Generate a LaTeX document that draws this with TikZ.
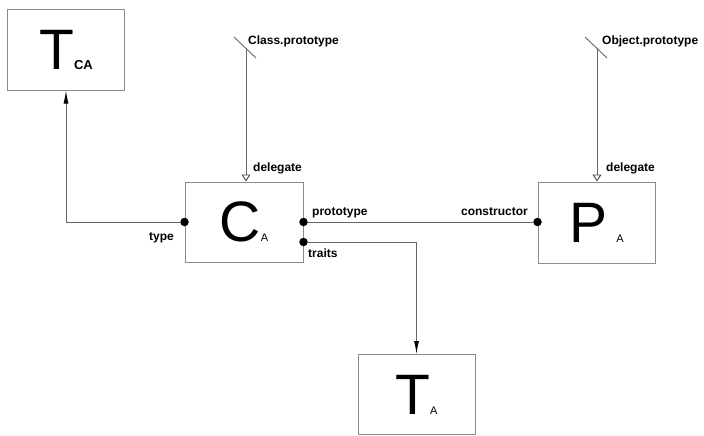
\documentclass[tikz,border=0pt]{standalone}
\usepackage{fontspec}
\setmainfont{Liberation Sans}
\usetikzlibrary{arrows.meta,positioning}
\newcommand{\bigname}[2]{{\fontsize{57}{57}\selectfont #1}{\fontsize{11}{11}\selectfont #2}}

\begin{document}
\begin{tikzpicture}
		[x=1pt, y=-1pt,
		block/.style ={rectangle, draw=black!45, line width=1pt, minimum width=117pt, minimum height=80pt, inner sep=0pt},
		line/.style ={draw=black!60, line width=0.9pt},
		arrow/.style ={line, -{Latex[length=13pt,width=5pt,color=black]}},
		deleg/.style ={line, -{Triangle[open,length=7pt,width=9pt,color=black!70]}},
		port/.style ={circle, fill=black, inner sep=0pt, minimum size=8.5pt},
		lbl/.style ={font=\fontsize{12}{12}\selectfont\bfseries, inner sep=0pt},
		]
		\useasboundingbox (0,0) rectangle (704,436);

		\draw (66,50) node[block] (TCA) {\bigname{T}{\bfseries\fontsize{13}{13}\selectfont CA}};
		\draw (244,222) node[block, minimum width=118pt] (CA) {\bigname{C}{A}};
		\draw (596.5,222.5) node[block, minimum height=81pt] (PA) {\bigname{P}{\hspace{9pt}A}};
		\draw (416.5,394.5) node[block] (TA) {\bigname{T}{A}};

		\node[port] (CAtype) at (CA.west) {};
		\node[port] (CAproto) at (CA.east |- 0,222) {};
		\node[port] (CAtraits) at (CA.east |- 0,242) {};
		\node[port] (PActor) at (PA.west |- 0,222) {};

		\coordinate (clsproto) at (246,48);
		\coordinate (objproto) at (597,48);

		\path[arrow] (CAtype) -| (TCA);
		\path[arrow] (CAtraits) -| (TA);
		\path[line] (CAproto) -- (PActor);
		\path[deleg] (clsproto) -- (clsproto |- CA.north);
		\path[deleg] (objproto) -- (objproto |- PA.north);
		\draw[line] (clsproto) +(-12,-11) -- +(10,10);
		\draw[line] (objproto) +(-12,-11) -- +(10,10);

		\node[lbl, anchor=west] (lclass) at (248,41) {Class.prototype};
		\node[lbl, anchor=west] (lobject) at (602,41) {Object.prototype};
		\node[lbl, anchor=west] (ldelc) at (253,168) {delegate};
		\node[lbl, anchor=west] (ldelp) at (606,168) {delegate};
		\node[lbl, anchor=west] (lproto) at (312,213) {prototype};
		\node[lbl, anchor=west] (ltraits) at (308,253) {traits};
		\node[lbl, anchor=east] (ltype) at (174,238) {type};
		\node[lbl, anchor=east] (lctor) at (528,212) {constructor};

	\end{tikzpicture}
\end{document}
